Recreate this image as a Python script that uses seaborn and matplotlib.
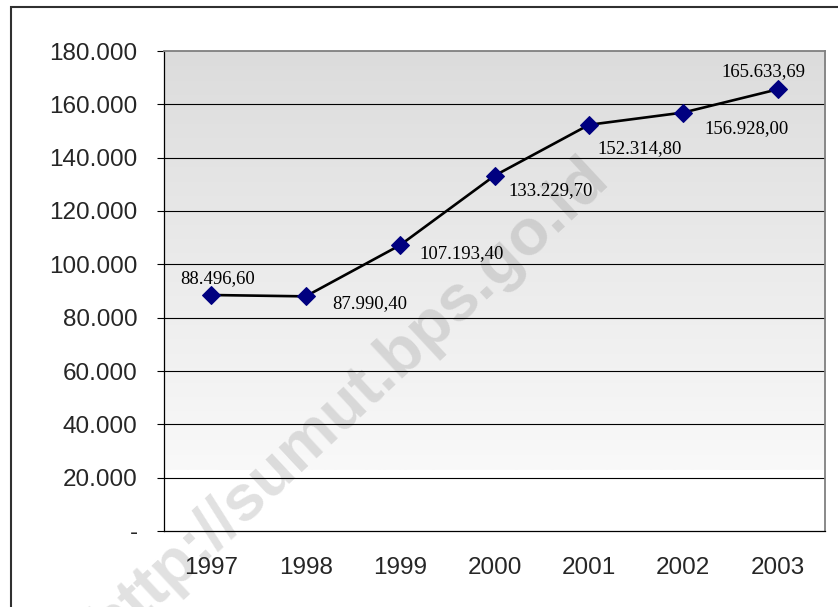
import numpy as np
import pandas as pd
import matplotlib
matplotlib.use("Agg")
import matplotlib.pyplot as plt
import matplotlib.patches as mpatches
from matplotlib.colors import LinearSegmentedColormap
import seaborn as sns

years = ["1997", "1998", "1999", "2000", "2001", "2002", "2003"]
values = [88496.60, 87990.40, 107193.40, 133229.70, 152314.80, 156928.00, 165633.69]
value_labels = ["88.496,60", "87.990,40", "107.193,40", "133.229,70",
                "152.314,80", "156.928,00", "165.633,69"]
y_ticks = [0, 20000, 40000, 60000, 80000, 100000, 120000, 140000, 160000, 180000]
y_tick_labels = ["-", "20.000", "40.000", "60.000", "80.000", "100.000",
                 "120.000", "140.000", "160.000", "180.000"]

# label offsets in pixels (dx right, dy up) relative to each marker
label_offsets = [(6, 16), (64, -7), (62, -8), (56, -15), (51, -24), (63, -16), (-14, 18)]

sns.set_style("white")
plt.rcParams["font.family"] = ["Liberation Sans", "DejaVu Sans"]

W, H = 838, 607
fig = plt.figure(figsize=(W / 100, H / 100), dpi=100)
fig.patch.set_facecolor("white")

left, right, top, bottom = 164, 825, 51, 531
ax = fig.add_axes([left / W, 1 - bottom / H, (right - left) / W, (bottom - top) / H])

df = pd.DataFrame({"pos": np.arange(len(years)), "value": values, "year": years})

# gray gradient background in the plot area
grad = np.linspace(0, 1, 256).reshape(-1, 1)
cmap = LinearSegmentedColormap.from_list("bg", ["#f9f9f9", "#dcdcdc"])
ax.imshow(grad, aspect="auto", cmap=cmap, origin="lower",
          extent=(-0.5, 6.5, 23000, 180000), zorder=0)

ax.set_xlim(-0.5, 6.5)
ax.set_ylim(0, 180000)

# watermark, behind gridlines and the series
ax.text(0.4165, 0.339, "http://sumut.bps.go.id", transform=fig.transFigure,
        rotation=43, rotation_mode="anchor", ha="center", va="center",
        fontsize=47, fontweight="bold", color="#808080", alpha=0.24,
        family=["Liberation Sans", "DejaVu Sans"], zorder=0.5, clip_on=False)

# horizontal gridlines
for yv in y_ticks[1:-1]:
    ax.axhline(yv, color="black", lw=0.8, zorder=1)

sns.lineplot(data=df, x="pos", y="value", ax=ax, color="black", lw=1.9,
             marker="D", markersize=9.5, markerfacecolor="#000080",
             markeredgecolor="#000080", zorder=3)

for xi, (v, lab, (dx, dy)) in enumerate(zip(values, value_labels, label_offsets)):
    ax.annotate(lab, (xi, v), xytext=(dx, dy), textcoords="offset pixels",
                ha="center", va="center", fontsize=13.5,
                family=["Liberation Serif", "DejaVu Serif"], color="black", zorder=4)

ax.set_yticks(y_ticks)
ax.set_yticklabels(y_tick_labels, fontsize=17.5)
ax.set_xticks(np.arange(len(years)))
ax.set_xticklabels(years, fontsize=17.5)
ax.set_xticks(np.arange(-0.5, 7.0, 1.0), minor=True)
ax.tick_params(axis="x", which="major", length=0, pad=19)
ax.tick_params(axis="x", which="minor", length=5, width=0.8, color="black", direction="out")
ax.tick_params(axis="y", which="major", length=5, width=0.8, color="black",
               direction="out", left=True, pad=14)
ax.set_xlabel("")
ax.set_ylabel("")

for side in ["left", "bottom"]:
    ax.spines[side].set_color("black")
    ax.spines[side].set_linewidth(0.9)
ax.spines["top"].set_color("#808080")
ax.spines["top"].set_linewidth(1.3)
ax.spines["right"].set_color("#808080")
ax.spines["right"].set_linewidth(1.3)

# outer chart frame
frame = mpatches.Rectangle((11 / W, -0.1), 2.0, 1.1 - 7 / H, transform=fig.transFigure,
                           fill=False, edgecolor="#303030", lw=1.5, clip_on=False)
fig.patches.append(frame)

fig.savefig("out.png", dpi=100, facecolor="white")
